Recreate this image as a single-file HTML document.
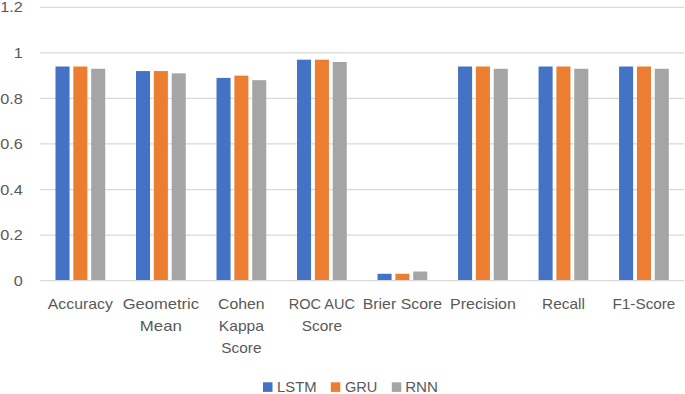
<!DOCTYPE html>
<html lang="en"><head><meta charset="utf-8"><title>Model comparison chart</title>
<style>html,body{margin:0;padding:0;background:#fff}svg{display:block}text{font-family:"Liberation Sans",sans-serif;font-size:15px;fill:#595959}</style></head>
<body>
<svg width="685" height="394" viewBox="0 0 685 394">
<rect width="685" height="394" fill="#ffffff"/>
<line x1="40.10" x2="684.20" y1="235.05" y2="235.05" stroke="#D9D9D9" stroke-width="1.25"/>
<line x1="40.10" x2="684.20" y1="189.50" y2="189.50" stroke="#D9D9D9" stroke-width="1.25"/>
<line x1="40.10" x2="684.20" y1="143.95" y2="143.95" stroke="#D9D9D9" stroke-width="1.25"/>
<line x1="40.10" x2="684.20" y1="98.40" y2="98.40" stroke="#D9D9D9" stroke-width="1.25"/>
<line x1="40.10" x2="684.20" y1="52.85" y2="52.85" stroke="#D9D9D9" stroke-width="1.25"/>
<line x1="40.10" x2="684.20" y1="7.30" y2="7.30" stroke="#D9D9D9" stroke-width="1.25"/>
<rect x="55.49" y="66.52" width="14.05" height="213.49" fill="#4472C4"/>
<rect x="73.33" y="66.52" width="14.05" height="213.49" fill="#ED7D31"/>
<rect x="91.18" y="68.79" width="14.05" height="211.21" fill="#A5A5A5"/>
<rect x="136.00" y="71.07" width="14.05" height="208.93" fill="#4472C4"/>
<rect x="153.84" y="71.07" width="14.05" height="208.93" fill="#ED7D31"/>
<rect x="171.69" y="73.35" width="14.05" height="206.65" fill="#A5A5A5"/>
<rect x="216.51" y="77.90" width="14.05" height="202.10" fill="#4472C4"/>
<rect x="234.36" y="75.62" width="14.05" height="204.38" fill="#ED7D31"/>
<rect x="252.20" y="80.18" width="14.05" height="199.82" fill="#A5A5A5"/>
<rect x="297.02" y="59.68" width="14.05" height="220.32" fill="#4472C4"/>
<rect x="314.87" y="59.68" width="14.05" height="220.32" fill="#ED7D31"/>
<rect x="332.71" y="61.96" width="14.05" height="218.04" fill="#A5A5A5"/>
<rect x="377.54" y="273.77" width="14.05" height="6.23" fill="#4472C4"/>
<rect x="395.38" y="273.77" width="14.05" height="6.23" fill="#ED7D31"/>
<rect x="413.23" y="271.49" width="14.05" height="8.51" fill="#A5A5A5"/>
<rect x="458.05" y="66.52" width="14.05" height="213.49" fill="#4472C4"/>
<rect x="475.89" y="66.52" width="14.05" height="213.49" fill="#ED7D31"/>
<rect x="493.74" y="68.79" width="14.05" height="211.21" fill="#A5A5A5"/>
<rect x="538.56" y="66.52" width="14.05" height="213.49" fill="#4472C4"/>
<rect x="556.41" y="66.52" width="14.05" height="213.49" fill="#ED7D31"/>
<rect x="574.25" y="68.79" width="14.05" height="211.21" fill="#A5A5A5"/>
<rect x="619.07" y="66.52" width="14.05" height="213.49" fill="#4472C4"/>
<rect x="636.92" y="66.52" width="14.05" height="213.49" fill="#ED7D31"/>
<rect x="654.76" y="68.79" width="14.05" height="211.21" fill="#A5A5A5"/>
<line x1="40.10" x2="684.20" y1="280.60" y2="280.60" stroke="#D9D9D9" stroke-width="1.25"/>
<rect x="263.0" y="382.3" width="9.5" height="9.6" fill="#4472C4"/>
<rect x="330.8" y="382.3" width="9.5" height="9.6" fill="#ED7D31"/>
<rect x="391.8" y="382.3" width="9.5" height="9.6" fill="#A5A5A5"/>
<text x="13.82" y="285.70" textLength="9.03" lengthAdjust="spacingAndGlyphs">0</text>
<text x="0.29" y="240.15" textLength="22.56" lengthAdjust="spacingAndGlyphs">0.2</text>
<text x="0.29" y="194.60" textLength="22.56" lengthAdjust="spacingAndGlyphs">0.4</text>
<text x="0.29" y="149.05" textLength="22.56" lengthAdjust="spacingAndGlyphs">0.6</text>
<text x="0.29" y="103.50" textLength="22.56" lengthAdjust="spacingAndGlyphs">0.8</text>
<text x="13.82" y="57.95" textLength="9.03" lengthAdjust="spacingAndGlyphs">1</text>
<text x="0.29" y="12.40" textLength="22.56" lengthAdjust="spacingAndGlyphs">1.2</text>
<text x="47.81" y="308.75" textLength="65.09" lengthAdjust="spacingAndGlyphs">Accuracy</text>
<text x="122.66" y="308.75" textLength="76.41" lengthAdjust="spacingAndGlyphs">Geometric</text>
<text x="139.87" y="330.65" textLength="42.00" lengthAdjust="spacingAndGlyphs">Mean</text>
<text x="218.14" y="308.75" textLength="46.49" lengthAdjust="spacingAndGlyphs">Cohen</text>
<text x="218.85" y="330.65" textLength="45.05" lengthAdjust="spacingAndGlyphs">Kappa</text>
<text x="221.28" y="352.55" textLength="40.20" lengthAdjust="spacingAndGlyphs">Score</text>
<text x="288.77" y="308.75" textLength="66.25" lengthAdjust="spacingAndGlyphs">ROC AUC</text>
<text x="301.79" y="330.65" textLength="40.20" lengthAdjust="spacingAndGlyphs">Score</text>
<text x="362.76" y="308.75" textLength="79.30" lengthAdjust="spacingAndGlyphs">Brier Score</text>
<text x="450.05" y="308.75" textLength="65.73" lengthAdjust="spacingAndGlyphs">Precision</text>
<text x="542.04" y="308.75" textLength="42.79" lengthAdjust="spacingAndGlyphs">Recall</text>
<text x="612.51" y="308.75" textLength="62.87" lengthAdjust="spacingAndGlyphs">F1-Score</text>
<text x="277.00" y="392.10" textLength="39.60" lengthAdjust="spacingAndGlyphs">LSTM</text>
<text x="344.90" y="392.10" textLength="32.35" lengthAdjust="spacingAndGlyphs">GRU</text>
<text x="405.20" y="392.10" textLength="32.68" lengthAdjust="spacingAndGlyphs">RNN</text>
</svg>
</body></html>
